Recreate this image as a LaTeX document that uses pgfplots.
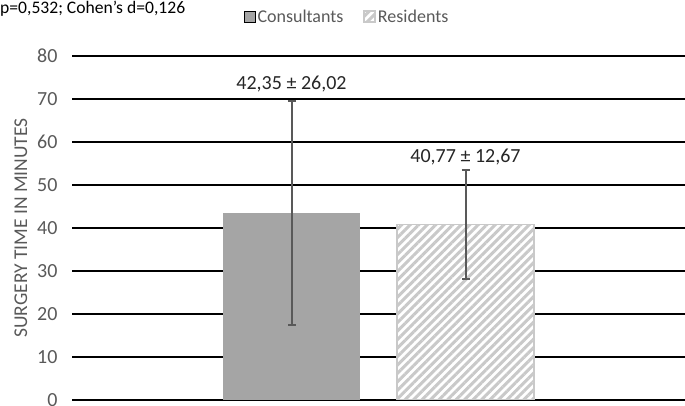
\documentclass[border=0pt]{standalone}
\usepackage{fontspec}
\setmainfont{Carlito}
\usepackage{pgfplots}
\pgfplotsset{compat=1.18}
\usetikzlibrary{patterns.meta}
\definecolor{txtgray}{HTML}{595959}
\definecolor{bargray}{HTML}{A5A5A5}
\definecolor{hatch}{HTML}{C9C9C9}
\definecolor{errgray}{HTML}{595959}
\definecolor{labgray}{HTML}{262626}
\begin{document}
\begin{tikzpicture}
\begin{axis}[
  at={(72pt,6pt)}, anchor=south west,
  scale only axis, width=613pt, height=344pt,
  xmin=72, xmax=685, ymin=0, ymax=80,
  ytick={0,10,...,80}, xtick=\empty,
  axis line style={draw=none},
  major tick length=0pt,
  ymajorgrids, grid style={black, line width=1.5pt},
  yticklabel style={font=\fontsize{20}{24}\selectfont, text=txtgray, xshift=-11pt},
  /pgf/number format/assume math mode=true,
  ylabel={SURGERY TIME IN MINUTES},
  ylabel style={font=\fontsize{19.5}{23}\selectfont, text=txtgray, at={(axis description cs:-0.0832,0.5)}, anchor=center},
  legend columns=2,
  legend style={at={(0.449,1.113)}, anchor=center, draw=none, fill=none, font=\fontsize{18}{21}\selectfont, text=txtgray, /tikz/every even column/.append style={column sep=18pt}},
  legend image code/.code={\draw[#1] (0pt,-5pt) rectangle (11pt,6pt);},
]
\addplot[ybar, bar width=137, bar shift=0pt, fill=bargray, draw=none]
  coordinates {(291.5,43.4)};
\addlegendentry{Consultants}
\addplot[ybar, bar width=137, bar shift=0pt, fill=white, draw=hatch, line width=1.5pt,
  postaction={pattern={Lines[angle=45,distance=6pt,line width=3pt]}, pattern color=hatch}]
  coordinates {(465.5,40.8)};
\addlegendentry{Residents}
\addplot[forget plot, draw=none, mark=none, line width=2pt,
  error bars/.cd, y dir=both, y explicit, error mark=|,
  error bar style={draw=errgray, line width=2pt, solid},
  error mark options={draw=errgray, line width=2pt, mark size=4pt, solid}]
  coordinates {(291.5,43.4) +- (0,26.02) (465.5,40.8) +- (0,12.67)};
\node[anchor=base, inner sep=0pt, text=labgray, font=\fontsize{20}{24}\selectfont] at (axis cs:291.5,72.1) {42,35 ± 26,02};
\node[anchor=base, inner sep=0pt, text=labgray, font=\fontsize{20}{24}\selectfont] at (axis cs:465.5,55.3) {40,77 ± 12,67};
\end{axis}
\node[anchor=base west, inner sep=0pt, font=\fontsize{17.6}{21}\selectfont] at (0pt,392pt) {p=0,532; Cohen’s d=0,126};
\pgfresetboundingbox
\path (0pt,0pt) rectangle (685pt,406pt);
\end{tikzpicture}
\end{document}
